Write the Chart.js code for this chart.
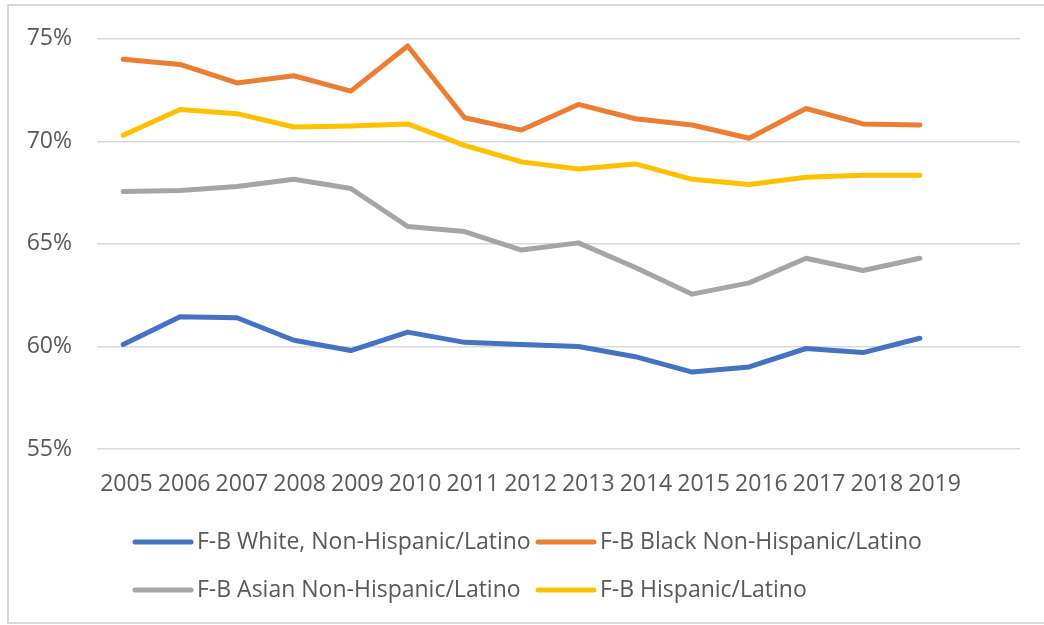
<!DOCTYPE html>
<html>
<head>
<meta charset="utf-8">
<script src="https://cdn.jsdelivr.net/npm/chart.js@4/dist/chart.umd.min.js"></script>
<style>
  html, body { margin: 0; padding: 0; background: #ffffff; }
  #wrap { width: 1044px; height: 625px; position: relative; }
</style>
</head>
<body>
<div id="wrap"><canvas id="c" width="1044" height="625"></canvas></div>
<script>
// Survey years
const years = [2005, 2006, 2007, 2008, 2009, 2010, 2011, 2012, 2013, 2014, 2015, 2016, 2017, 2018, 2019];

// Share (%) by foreign-born group
const whiteNonHisp = [60.1, 61.45, 61.4, 60.3, 59.8, 60.7, 60.2, 60.1, 60.0, 59.5, 58.75, 59.0, 59.9, 59.7, 60.4];
const blackNonHisp = [74.0, 73.75, 72.85, 73.2, 72.45, 74.65, 71.15, 70.55, 71.8, 71.1, 70.8, 70.15, 71.6, 70.85, 70.8];
const asianNonHisp = [67.55, 67.6, 67.8, 68.15, 67.7, 65.85, 65.6, 64.7, 65.05, 63.85, 62.55, 63.1, 64.3, 63.7, 64.3];
const hispanic     = [70.3, 71.55, 71.35, 70.7, 70.75, 70.85, 69.8, 69.0, 68.65, 68.9, 68.15, 67.9, 68.25, 68.35, 68.35];

const seriesNames = [
  "F-B White, Non-Hispanic/Latino",
  "F-B Black Non-Hispanic/Latino",
  "F-B Asian Non-Hispanic/Latino",
  "F-B Hispanic/Latino"
];
const seriesColors = ["#4472C4", "#ED7D31", "#A5A5A5", "#FFC000"];

const yTicks = [55, 60, 65, 70, 75];

const FONT = "'Open Sans', 'DejaVu Sans', sans-serif";
const TEXT = "#595959";
const FONT_SIZE = 23;

const toPoints = vals => vals.map((v, i) => ({ x: years[i], y: v }));

const datasets = [whiteNonHisp, blackNonHisp, asianNonHisp, hispanic].map((vals, i) => ({
  label: seriesNames[i],
  data: toPoints(vals),
  borderColor: seriesColors[i],
  backgroundColor: seriesColors[i],
  borderWidth: 5,
  pointRadius: 0,
  tension: 0,
  borderCapStyle: "round",
  borderJoinStyle: "round",
  fill: false
}));

// Frame around the whole chart
const framePlugin = {
  id: "frame",
  beforeDraw(chart) {
    const ctx = chart.ctx;
    ctx.save();
    ctx.fillStyle = "#ffffff";
    ctx.fillRect(0, 0, chart.width, chart.height);
    ctx.strokeStyle = "#d9d9d9";
    ctx.lineWidth = 2;
    ctx.strokeRect(8, 5, chart.width + 10, chart.height - 7);
    ctx.restore();
  }
};

// Two-column legend below the plot
const gridLegend = {
  id: "gridLegend",
  afterDraw(chart) {
    const ctx = chart.ctx;
    const cols = [133, 536];
    const rows = [542, 590];
    ctx.save();
    ctx.font = FONT_SIZE + "px " + FONT;
    ctx.textBaseline = "middle";
    ctx.textAlign = "left";
    chart.data.datasets.forEach((ds, i) => {
      const x = cols[i % 2];
      const y = rows[Math.floor(i / 2)];
      ctx.strokeStyle = ds.borderColor;
      ctx.lineWidth = 5;
      ctx.lineCap = "round";
      ctx.beginPath();
      ctx.moveTo(x + 2, y);
      ctx.lineTo(x + 58, y);
      ctx.stroke();
      ctx.fillStyle = TEXT;
      ctx.fillText(ds.label, x + 64, y);
    });
    ctx.restore();
  }
};

new Chart(document.getElementById("c"), {
  type: "line",
  data: { datasets },
  plugins: [framePlugin, gridLegend],
  options: {
    responsive: false,
    animation: false,
    layout: { padding: { top: 36, right: 24, bottom: 0, left: 0 } },
    plugins: { legend: { display: false }, tooltip: { enabled: false } },
    scales: {
      // scale that positions the data
      x: {
        type: "linear",
        weight: 1,
        min: 2004.54,
        max: 2020.76,
        afterFit(s) { s.height = 0; },
        grid: { display: false, drawTicks: false },
        border: { display: false },
        ticks: { display: false }
      },
      // year labels along the bottom
      xLabels: {
        type: "linear",
        position: "bottom",
        weight: 0,
        min: 2004.49,
        max: 2020.48,
        afterFit(s) { s.height = 176; },
        afterBuildTicks(s) { s.ticks = years.map(v => ({ value: v })); },
        grid: { display: false, drawTicks: false },
        border: { display: false },
        ticks: {
          padding: 22,
          autoSkip: false,
          maxRotation: 0,
          color: TEXT,
          font: { family: FONT, size: FONT_SIZE },
          callback: v => String(v)
        }
      },
      y: {
        min: 55,
        max: 75,
        afterFit(s) { s.width = 97; },
        afterBuildTicks(s) { s.ticks = yTicks.map(v => ({ value: v })); },
        grid: { color: "#d9d9d9", lineWidth: 1.5, drawTicks: false },
        border: { display: false },
        ticks: {
          padding: 25,
          color: TEXT,
          font: { family: FONT, size: FONT_SIZE },
          callback: v => v + "%"
        }
      }
    }
  }
});
</script>
</body>
</html>
